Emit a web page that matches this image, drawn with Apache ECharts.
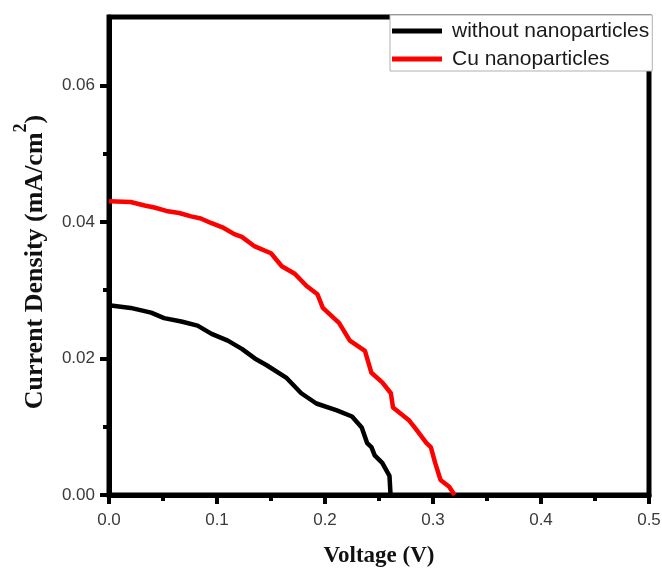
<!DOCTYPE html>
<html>
<head>
<meta charset="utf-8">
<script src="https://cdn.jsdelivr.net/npm/echarts@6/dist/echarts.min.js"></script>
<style>
  html, body { margin: 0; padding: 0; background: #fff; }
  #chart { width: 662px; height: 570px; }
</style>
</head>
<body>
<div id="chart"></div>
<script>
// J–V curves: voltage (V) against current density (mA/cm²)
const seriesNames = ['without nanoparticles', 'Cu nanoparticles'];

const bareVoltage = [0, 0.020, 0.039, 0.051, 0.067, 0.082, 0.095, 0.110, 0.123, 0.135, 0.146,
  0.164, 0.178, 0.192, 0.211, 0.225, 0.234, 0.239, 0.243, 0.246, 0.253, 0.2597, 0.2607];
const bareCurrent = [0.0278, 0.0274, 0.0267, 0.0259, 0.0254, 0.0248, 0.0236, 0.0226, 0.0214, 0.0200, 0.0190,
  0.0172, 0.0149, 0.0134, 0.0124, 0.0115, 0.0099, 0.0076, 0.0070, 0.0058, 0.0047, 0.0028, 0.0];

const cuVoltage = [0, 0.020, 0.033, 0.042, 0.053, 0.065, 0.076, 0.085, 0.095, 0.105, 0.116, 0.123,
  0.135, 0.150, 0.160, 0.172, 0.183, 0.193, 0.198, 0.213, 0.223, 0.237, 0.243, 0.253, 0.261, 0.263,
  0.278, 0.283, 0.294, 0.298, 0.302, 0.307, 0.315, 0.320];
const cuCurrent = [0.0430, 0.0429, 0.0424, 0.0421, 0.0416, 0.0413, 0.0408, 0.0405, 0.0398, 0.0392, 0.0382, 0.0378,
  0.0364, 0.0354, 0.0335, 0.0324, 0.0306, 0.0294, 0.0274, 0.0252, 0.0226, 0.0211, 0.0179, 0.0165, 0.0149, 0.0128,
  0.0109, 0.0099, 0.0076, 0.0070, 0.0047, 0.0022, 0.0012, 0.0];

const xTicks = [0, 0.1, 0.2, 0.3, 0.4, 0.5];
const yMajorTicks = [0, 0.02, 0.04, 0.06];
const yMinorTicks = [0.01, 0.03, 0.05];

const pair = (xs, ys) => xs.map((x, i) => [x, ys[i]]);

const chart = echarts.init(document.getElementById('chart'), null, { renderer: 'canvas' });

const tickLabelStyle = { color: '#3a3a3a', fontFamily: 'Liberation Sans, Arial, sans-serif', fontSize: 17 };
const titleFont = 'Liberation Serif, Times New Roman, serif';
// legend swatch: a 50×5 bar, with an empty point at x=55 that widens the box to leave a gap before the text
const legendBar = 'path://M0,0H50V5H0Z M55,2.5L55,2.5Z';

chart.setOption({
  backgroundColor: '#fff',
  animation: false,
  grid: {
    left: 109, right: 13, top: 17, bottom: 75,
    outerBoundsMode: 'none', containLabel: false,
    show: true, borderColor: '#000', borderWidth: 5, backgroundColor: 'transparent'
  },
  legend: {
    orient: 'vertical',
    left: 390, top: 15,
    align: 'left',
    padding: [5, 3, 1, 2],
    itemGap: 6,
    itemWidth: 55, itemHeight: 5,
    icon: legendBar,
    backgroundColor: '#fff',
    borderColor: '#b0b0b0', borderWidth: 1, borderRadius: 0,
    textStyle: { color: '#1a1a1a', fontFamily: 'Liberation Sans, Arial, sans-serif', fontSize: 21, lineHeight: 22 },
    data: seriesNames,
    z: 10
  },
  xAxis: {
    type: 'value', min: xTicks[0], max: xTicks[xTicks.length - 1], interval: 0.1,
    name: 'Voltage (V)', nameLocation: 'middle', nameGap: 50,
    nameTextStyle: { fontFamily: titleFont, fontWeight: 'bold', fontSize: 23, color: '#111' },
    axisLine: { show: true, lineStyle: { color: '#000', width: 5 } },
    axisTick: { show: true, inside: false, length: 9, lineStyle: { color: '#000', width: 4 } },
    minorTick: { show: true, splitNumber: 2, length: 6, lineStyle: { color: '#000', width: 4 } },
    axisLabel: { ...tickLabelStyle, margin: 17, formatter: v => v.toFixed(1) },
    splitLine: { show: false }, minorSplitLine: { show: false }
  },
  yAxis: [
    {
      type: 'value', min: 0, max: 0.07,
      name: '{t|Current Density (mA/cm}{s|2}{t|)}', nameLocation: 'middle', nameGap: 61,
      nameTextStyle: {
        fontFamily: titleFont, fontWeight: 'bold', color: '#111',
        padding: [0, 12, 0, 0],
        rich: {
          t: { fontFamily: titleFont, fontWeight: 'bold', fontSize: 26, lineHeight: 30, verticalAlign: 'bottom', color: '#111' },
          s: { fontFamily: titleFont, fontWeight: 'bold', fontSize: 18, lineHeight: 18, padding: [0, 0, 18, 0], verticalAlign: 'bottom', color: '#111' }
        }
      },
      axisLine: { show: true, lineStyle: { color: '#000', width: 5 } },
      axisTick: { show: true, inside: false, length: 9, customValues: yMajorTicks, lineStyle: { color: '#000', width: 4 } },
      axisLabel: { ...tickLabelStyle, margin: 14, customValues: yMajorTicks, formatter: v => v.toFixed(2) },
      splitLine: { show: false }
    },
    {
      // minor ticks between the labelled values
      type: 'value', min: 0, max: 0.07, position: 'left',
      axisLine: { show: false },
      axisTick: { show: true, inside: false, length: 6, customValues: yMinorTicks, lineStyle: { color: '#000', width: 4 } },
      axisLabel: { show: false },
      splitLine: { show: false }
    }
  ],
  series: [
    {
      name: seriesNames[0], type: 'line', data: pair(bareVoltage, bareCurrent),
      symbol: 'none', smooth: false, clip: false,
      lineStyle: { color: '#000', width: 4.5 }, itemStyle: { color: '#000' }, z: 3
    },
    {
      name: seriesNames[1], type: 'line', data: pair(cuVoltage, cuCurrent),
      symbol: 'none', smooth: false, clip: false,
      lineStyle: { color: '#ff0000', width: 4.5 }, itemStyle: { color: '#ff0000' }, z: 3
    }
  ]
});
</script>
</body>
</html>
